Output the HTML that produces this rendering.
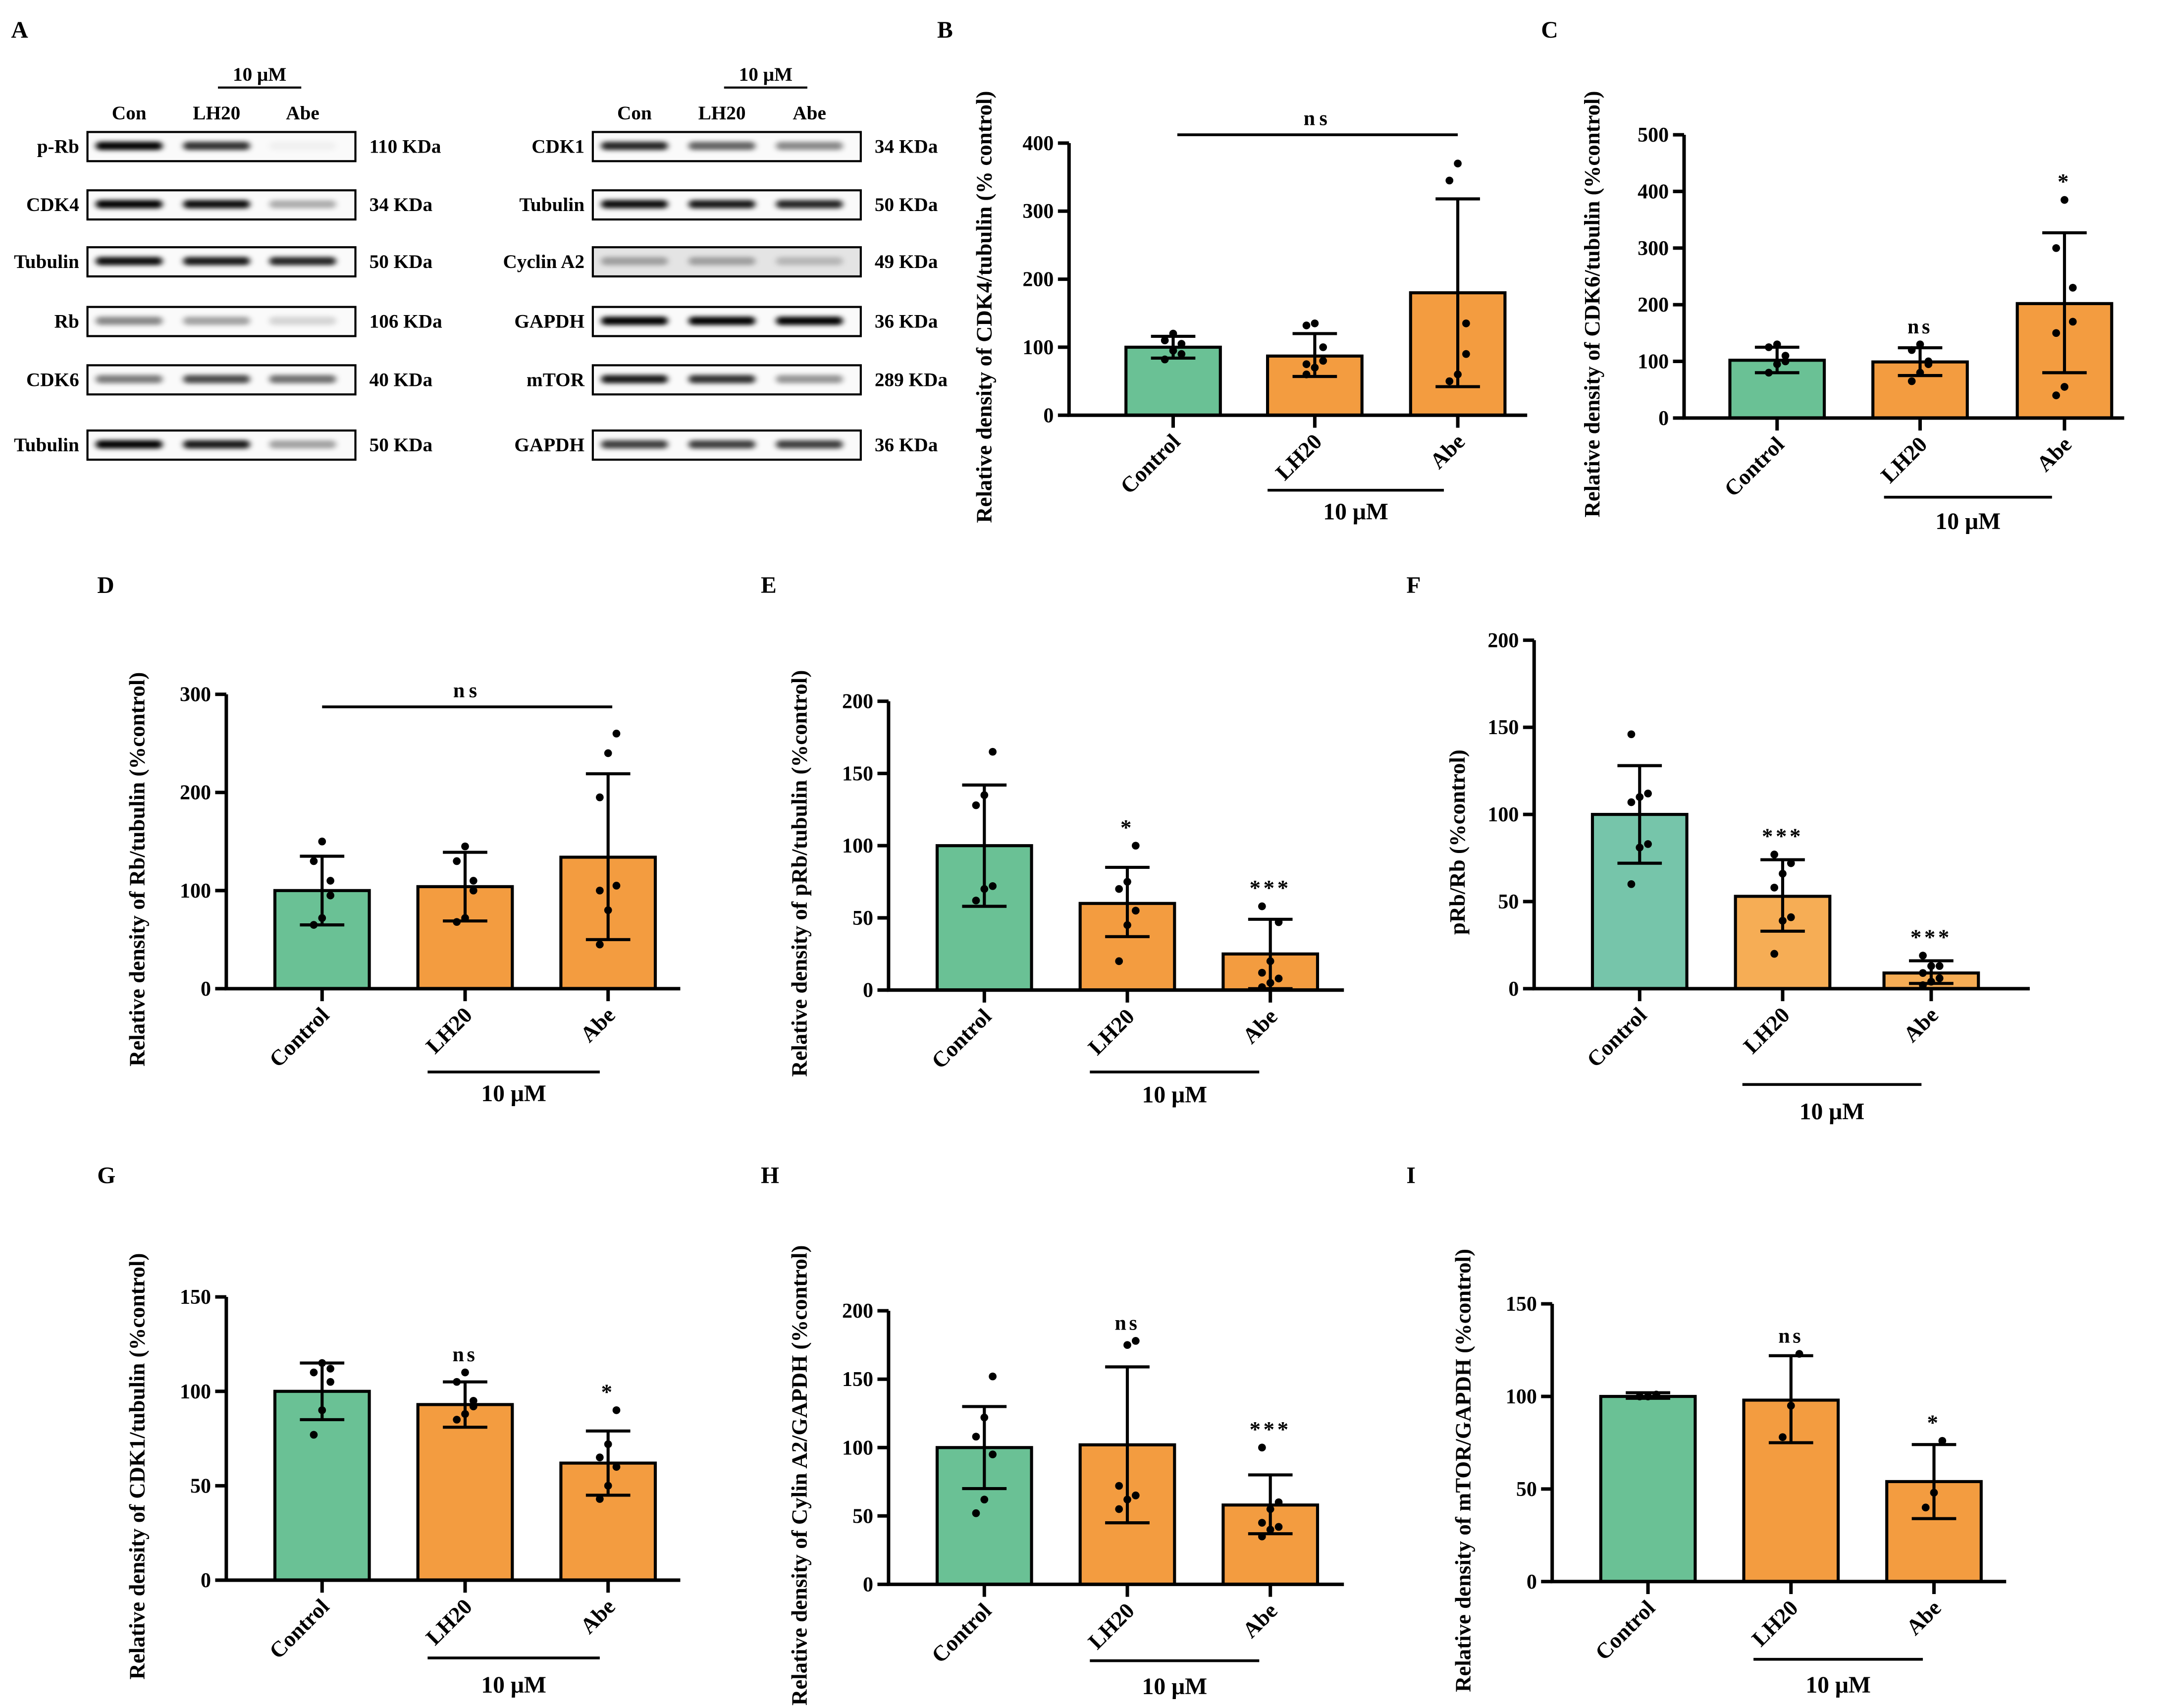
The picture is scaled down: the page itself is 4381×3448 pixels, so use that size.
<!DOCTYPE html>
<html><head><meta charset="utf-8"><style>
html,body{margin:0;padding:0;background:#fff}
svg{display:block}
text{font-family:"Liberation Serif",serif;font-weight:bold;fill:#000}
</style></head><body>
<svg id="fig" width="4381" height="3448" viewBox="0 0 1563 1230" xmlns="http://www.w3.org/2000/svg">
<defs><filter id="blur" x="-20%" y="-100%" width="140%" height="300%"><feGaussianBlur stdDeviation="2.2 1.6"/></filter></defs>
<g id="blots"></g>
<g id="charts"></g>
</svg>
<script>
// ---- chart data ----
const categories = ["Control","LH20","Abe"];
const valuesB = [100, 87, 180];  const errHiB = [116,120,318]; const errLoB = [84,57,42];
const dotsB = [[82,95,105,110,120,90],[60,70,80,132,135,100,75],[50,60,135,345,370,90]];
const valuesC = [102, 99, 202]; const errHiC = [125,124,327]; const errLoC = [80,75,80];
const dotsC = [[80,95,110,125,130,100],[65,80,100,120,130,95],[40,55,170,300,385,230,150]];
const valuesD = [100, 104, 134]; const errHiD = [135,139,219]; const errLoD = [65,69,50];
const dotsD = [[65,72,110,130,150,95],[68,72,100,130,145,110],[45,80,105,195,240,260,100]];
const valuesE = [100, 60, 25]; const errHiE = [142,85,49]; const errLoE = [58,37,1];
const dotsE = [[62,70,72,128,135,165],[20,45,55,70,75,100],[2,5,8,12,20,47,58]];
const valuesF = [100, 53, 9]; const errHiF = [128,74,16]; const errLoF = [72,33,3];
const dotsF = [[60,81,83,107,110,112,146],[20,39,41,58,66,72,77],[2,4,6,9,13,13,19]];
const valuesG = [100, 93, 62]; const errHiG = [115,105,79]; const errLoG = [85,81,45];
const dotsG = [[77,90,105,110,115,112],[85,88,95,105,110,92],[43,50,60,65,72,90]];
const valuesH = [100, 102, 58]; const errHiH = [130,159,80]; const errLoH = [70,45,37];
const dotsH = [[52,62,95,108,122,152],[55,62,65,72,175,178],[35,40,42,45,55,60,100]];
const valuesI = [100, 98, 54]; const errHiI = [102,122,74]; const errLoI = [99,75,34];
const dotsI = [[100,100,101],[78,95,123],[40,48,76]];
const sigB = ["","",""]; const sigC = ["","ns","*"]; const sigD = ["","",""];
const sigE = ["","*","***"]; const sigF = ["","***","***"]; const sigG = ["","ns","*"];
const sigH = ["","ns","***"]; const sigI = ["","ns","*"];
const ticksB=[0,100,200,300,400], ticksC=[0,100,200,300,400,500], ticksD=[0,100,200,300],
      ticksE=[0,50,100,150,200], ticksF=[0,50,100,150,200], ticksG=[0,50,100,150],
      ticksH=[0,50,100,150,200], ticksI=[0,50,100,150];

const NS="http://www.w3.org/2000/svg";
function mk(tag, attrs, parent, txt){const e=document.createElementNS(NS,tag);for(const k in attrs)e.setAttribute(k,attrs[k]);if(txt!==undefined)e.textContent=txt;parent.appendChild(e);return e;}

const panels=[
 {L:"B",lx:675,ly:27,ax:770,y0:299,yT:103,max:400,xs:[845,947,1050],xe:1100,ticks:ticksB,v:valuesB,hi:errHiB,lo:errLoB,d:dotsB,sig:sigB,title:"Relative density of CDK4/tubulin (% control)",tx:714,ns:[848,1050,97],mu:[913,1040,353,374],cols:["#6ac195","#f39c40","#f39c40"]},
 {L:"C",lx:1110,ly:27,ax:1213,y0:301,yT:97,max:500,xs:[1280,1383,1487],xe:1530,ticks:ticksC,v:valuesC,hi:errHiC,lo:errLoC,d:dotsC,sig:sigC,title:"Relative density of CDK6/tubulin (%control)",tx:1152,ns:null,mu:[1357,1478,358,381],cols:["#6ac195","#f39c40","#f39c40"]},
 {L:"D",lx:70,ly:427,ax:163,y0:712,yT:500,max:300,xs:[232,335,438],xe:490,ticks:ticksD,v:valuesD,hi:errHiD,lo:errLoD,d:dotsD,sig:sigD,title:"Relative density of Rb/tubulin (%control)",tx:104,ns:[232,441,509],mu:[308,432,772,793],cols:["#6ac195","#f39c40","#f39c40"]},
 {L:"E",lx:548,ly:427,ax:640,y0:713,yT:505,max:200,xs:[709,812,915],xe:968,ticks:ticksE,v:valuesE,hi:errHiE,lo:errLoE,d:dotsE,sig:sigE,title:"Relative density of pRb/tubulin (%control)",tx:581,ns:null,mu:[785,907,772,794],cols:["#6ac195","#f39c40","#f39c40"]},
 {L:"F",lx:1013,ly:427,ax:1105,y0:712,yT:461,max:200,xs:[1181,1284,1391],xe:1462,ticks:ticksF,v:valuesF,hi:errHiF,lo:errLoF,d:dotsF,sig:sigF,title:"pRb/Rb (%control)",tx:1055,ns:null,mu:[1255,1384,781,806],cols:["#76c5aa","#f6ad55","#f6ad55"]},
 {L:"G",lx:70,ly:852,ax:163,y0:1138,yT:934,max:150,xs:[232,335,438],xe:490,ticks:ticksG,v:valuesG,hi:errHiG,lo:errLoG,d:dotsG,sig:sigG,title:"Relative density of CDK1/tubulin (%control)",tx:104,ns:null,mu:[308,432,1194,1219],cols:["#6ac195","#f39c40","#f39c40"]},
 {L:"H",lx:548,ly:852,ax:640,y0:1141,yT:944,max:200,xs:[709,812,915],xe:968,ticks:ticksH,v:valuesH,hi:errHiH,lo:errLoH,d:dotsH,sig:sigH,title:"Relative density of Cylin A2/GAPDH (%control)",tx:581,ns:null,mu:[785,907,1196,1220],cols:["#6ac195","#f39c40","#f39c40"]},
 {L:"I",lx:1013,ly:852,ax:1118,y0:1139,yT:939,max:150,xs:[1187,1290,1393],xe:1445,ticks:ticksI,v:valuesI,hi:errHiI,lo:errLoI,d:dotsI,sig:sigI,title:"Relative density of mTOR/GAPDH (%control)",tx:1059,ns:null,mu:[1263,1385,1195,1219],cols:["#6ac195","#f39c40","#f39c40"]}
];
const charts=document.getElementById('charts');
panels.forEach(p=>{
  const g=mk('g',{},charts);
  
  
  const y=v=>p.y0-(v/p.max)*(p.y0-p.yT);
  const lab=mk('text',{x:p.lx,y:p.ly,'font-size':17},g,p.L);
  
  
  p.v.forEach((v,i)=>{
    const r=mk('rect',{x:p.xs[i]-34,y:y(v),width:68,height:p.y0-y(v),fill:p.cols[i],stroke:'#000','stroke-width':2.2},g);
    
    
  });
  p.v.forEach((v,i)=>{
    const x=p.xs[i];
    const e=mk('path',{d:`M${x} ${y(p.lo[i])}V${y(p.hi[i])}M${x-16} ${y(p.hi[i])}H${x+16}M${x-16} ${y(p.lo[i])}H${x+16}`,stroke:'#000','stroke-width':2.2,fill:'none'},g);
    
    
    p.d[i].forEach((dv,j)=>{
      const off=((j%3)-1)*6;
      const c=mk('circle',{cx:x+off,cy:y(dv),r:2.8,fill:'#000'},g);
      
      
    });
    if(p.sig[i]){
      const s=mk('text',{x:x,y:y(Math.max(p.hi[i],Math.max(...p.d[i])))-8,'font-size':p.sig[i]=='ns'?15:16,'text-anchor':'middle','letter-spacing':2},g,p.sig[i]);
      
      
    }
  });
  const ax=mk('path',{d:`M${p.ax} ${p.yT}V${p.y0}H${p.xe}`,stroke:'#000','stroke-width':2.5,fill:'none'},g);
  
  
  p.ticks.forEach(t=>{
    mk('line',{x1:p.ax-8,x2:p.ax,y1:y(t),y2:y(t),stroke:'#000','stroke-width':2.5},g);
    const tl=mk('text',{x:p.ax-11,y:y(t)+5,'font-size':15,'text-anchor':'end'},g,t);
    
    
  });
  p.xs.forEach((x,i)=>{
    mk('line',{x1:x,x2:x,y1:p.y0,y2:p.y0+9,stroke:'#000','stroke-width':2.5},g);
    const cl=mk('text',{x:x+6,y:p.y0+20,'font-size':16,'text-anchor':'end',transform:`rotate(-45 ${x+6} ${p.y0+20})`},g,categories[i]);
    
    
  });
  const yt=mk('text',{x:p.tx,y:(p.y0+p.yT)/2+20,'font-size':16,'text-anchor':'middle',transform:`rotate(-90 ${p.tx} ${(p.y0+p.yT)/2+20})`},g,p.title);
  
  
  if(p.ns){
    mk('line',{x1:p.ns[0],x2:p.ns[1],y1:p.ns[2],y2:p.ns[2],stroke:'#000','stroke-width':2},g);
    const n=mk('text',{x:(p.ns[0]+p.ns[1])/2,y:p.ns[2]-7,'font-size':15,'text-anchor':'middle','letter-spacing':3},g,'ns');
    
    
  }
  mk('line',{x1:p.mu[0],x2:p.mu[1],y1:p.mu[2],y2:p.mu[2],stroke:'#000','stroke-width':2},g);
  const m=mk('text',{x:(p.mu[0]+p.mu[1])/2,y:p.mu[3],'font-size':17,'text-anchor':'middle'},g,'10  μM');
  
  
});

// ---- blots ----
const blots=document.getElementById('blots');
const aL=mk('text',{x:8,y:27,'font-size':17},blots,'A');


const leftRows=[["p-Rb","110 KDa",[1,0.8,0.04]],["CDK4","34 KDa",[1,0.95,0.3]],["Tubulin","50 KDa",[0.95,0.9,0.85]],["Rb","106 KDa",[0.45,0.35,0.15]],["CDK6","40 KDa",[0.5,0.7,0.55]],["Tubulin","50 KDa",[1,0.9,0.35]]];
const rightRows=[["CDK1","34 KDa",[0.85,0.6,0.45]],["Tubulin","50 KDa",[0.95,0.9,0.85]],["Cyclin A2","49 KDa",[0.3,0.3,0.2]],["GAPDH","36 KDa",[1,1,1]],["mTOR","289 KDa",[0.9,0.8,0.4]],["GAPDH","36 KDa",[0.75,0.75,0.75]]];
const rowY=[95,137,178,221,263,310];
function blotSet(x0,rows,lanes){
  const hx=(lanes[1]+lanes[2])/2;
  mk('line',{x1:hx-30,x2:hx+30,y1:63,y2:63,stroke:'#000','stroke-width':1.5},blots);
  mk('text',{x:hx,y:58,'font-size':14,'text-anchor':'middle'},blots,'10 μM');
  ["Con","LH20","Abe"].forEach((n,i)=>mk('text',{x:lanes[i],y:86,'font-size':14,'text-anchor':'middle'},blots,n));
  rows.forEach((r,k)=>{
    const g=mk('g',{},blots);
    
    
    const yy=rowY[k];
    mk('rect',{x:x0,y:yy,width:193,height:21,fill:r[0]=="Cyclin A2"?'#e4e4e4':'#fafafa',stroke:'#000','stroke-width':1.5},g);
    r[2].forEach((a,i)=>mk('rect',{x:lanes[i]-24,y:yy+7,width:48,height:6,rx:3,fill:'#000','fill-opacity':a,filter:'url(#blur)'},g));
    mk('text',{x:x0-6,y:yy+15,'font-size':14,'text-anchor':'end'},g,r[0]);
    mk('text',{x:x0+203,y:yy+15,'font-size':14},g,r[1]);
  });
}
blotSet(63,leftRows,[93,156,218]);
blotSet(427,rightRows,[457,520,583]);
</script>
</body></html>
